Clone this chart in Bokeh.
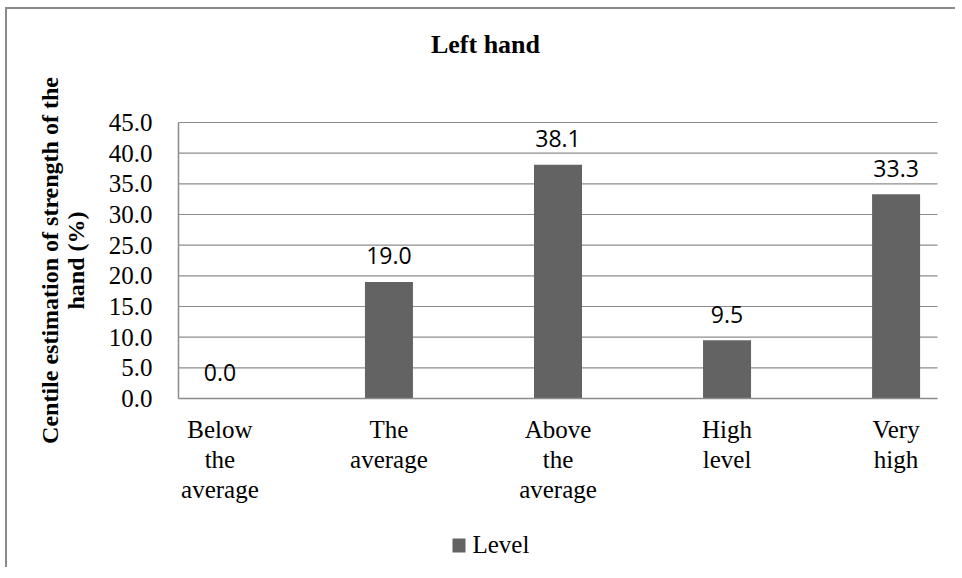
from bokeh.plotting import figure
from bokeh.models import (ColumnDataSource, Range1d, FixedTicker, Label, BoxAnnotation,
                          NumeralTickFormatter)
from bokeh.core.properties import value
from bokeh.embed import file_html
from bokeh.resources import INLINE

# ---- data ----
categories = ["Below the average", "The average", "Above the average", "High level", "Very high"]
category_labels = ["Below\nthe\naverage", "The\naverage", "Above\nthe\naverage", "High\nlevel", "Very\nhigh"]
level_values = [0.0, 19.0, 38.1, 9.5, 33.3]
y_ticks = [0, 5, 10, 15, 20, 25, 30, 35, 40, 45]
title_text = "Left hand"
y_axis_title = "Centile estimation of strength of the\nhand (%)"
series_name = "Level"

# ---- layout (pixels inside the canvas) ----
W, H = 950, 560
AREA_L, AREA_R, AREA_T, AREA_B = 171, 930, 113, 389
x_lo, x_hi = -0.245, len(categories) - 1 + 0.245
y_lo, y_hi = 0, 45
ppx = (AREA_R - AREA_L) / (x_hi - x_lo)
ppy = (AREA_B - AREA_T) / (y_hi - y_lo)

positions = list(range(len(categories)))
source = ColumnDataSource(data=dict(
    x=positions,
    y=level_values,
    label=[f"{v:.1f}" for v in level_values],
))
grid_src = ColumnDataSource(data=dict(y=y_ticks))

SERIF = "Liberation Serif"
GRID = "#8c8c8c"
BAR = "#636363"

p = figure(width=W, height=H, output_backend="svg", toolbar_location=None,
           x_range=Range1d(x_lo - AREA_L / ppx, x_hi + (W - AREA_R) / ppx),
           y_range=Range1d(y_lo - (H - AREA_B) / ppy, y_hi + AREA_T / ppy),
           min_border=0)
p.styles = {"border-top": "2px solid #8a8a8a", "border-left": "2px solid #8a8a8a",
            "margin-left": "5px", "margin-top": "7px"}
p.outline_line_color = None
p.background_fill_color = "white"
p.border_fill_color = "white"
p.xgrid.grid_line_color = None
p.ygrid.grid_line_color = None

# horizontal gridlines at the tick values
p.segment(x0=x_lo, x1=x_hi, y0="y", y1="y", source=grid_src,
          line_color=GRID, line_width=1.2)

bars = p.vbar(x="x", top="y", width=0.284, source=source,
              fill_color=BAR, line_color=None)

p.text(x="x", y="y", text="label", source=source,
       text_font=value("Open Sans"), text_font_size="23px", text_color="#000000",
       text_align="center", text_baseline="alphabetic", y_offset=-26)

# axes (fixed at the plot-area edges)
p.xaxis.fixed_location = y_lo
p.xaxis.bounds = (x_lo, x_hi)
p.xaxis.ticker = FixedTicker(ticks=positions)
p.xaxis.major_label_overrides = {i: lab for i, lab in zip(positions, category_labels)}
p.xaxis.major_label_text_font = SERIF
p.xaxis.major_label_text_font_size = "25px"
p.xaxis.major_label_text_color = "#000000"
p.xaxis.major_label_text_line_height = 1.12
p.xaxis.major_label_standoff = 11
p.xaxis.major_tick_line_color = None
p.xaxis.minor_tick_line_color = None
p.xaxis.axis_line_color = GRID
p.xaxis.axis_line_width = 1.5

p.yaxis.fixed_location = x_lo
p.yaxis.bounds = (y_lo, y_hi)
p.yaxis.ticker = FixedTicker(ticks=y_ticks)
p.yaxis.formatter = NumeralTickFormatter(format="0.0")
p.yaxis.major_label_text_font = SERIF
p.yaxis.major_label_text_font_size = "25px"
p.yaxis.major_label_text_color = "#000000"
p.yaxis.major_label_standoff = 20
p.yaxis.major_tick_line_color = None
p.yaxis.minor_tick_line_color = None
p.yaxis.axis_line_color = GRID
p.yaxis.axis_line_width = 1.5
p.yaxis.axis_label = y_axis_title
p.yaxis.axis_label_text_font = SERIF
p.yaxis.axis_label_text_font_style = "bold"
p.yaxis.axis_label_text_font_size = "24px"
p.yaxis.axis_label_text_color = "#000000"
p.yaxis.axis_label_text_line_height = 1.0
p.yaxis.axis_label_standoff = 17

# title
p.add_layout(Label(x=478, y=525, x_units="screen", y_units="screen", text=title_text,
                   text_font=SERIF, text_font_style="bold", text_font_size="26px",
                   text_color="#000000", text_align="center", text_baseline="alphabetic"))

# legend: swatch + label
p.add_layout(BoxAnnotation(left=445, right=458, bottom=17, top=31,
                           left_units="screen", right_units="screen",
                           bottom_units="screen", top_units="screen",
                           fill_color=BAR, fill_alpha=1.0, line_color=None))
p.add_layout(Label(x=465, y=25, x_units="screen", y_units="screen", text=series_name,
                   text_font=SERIF, text_font_size="25px", text_color="#000000",
                   text_align="left", text_baseline="alphabetic"))

open("out.html", "w").write(file_html(p, INLINE))
